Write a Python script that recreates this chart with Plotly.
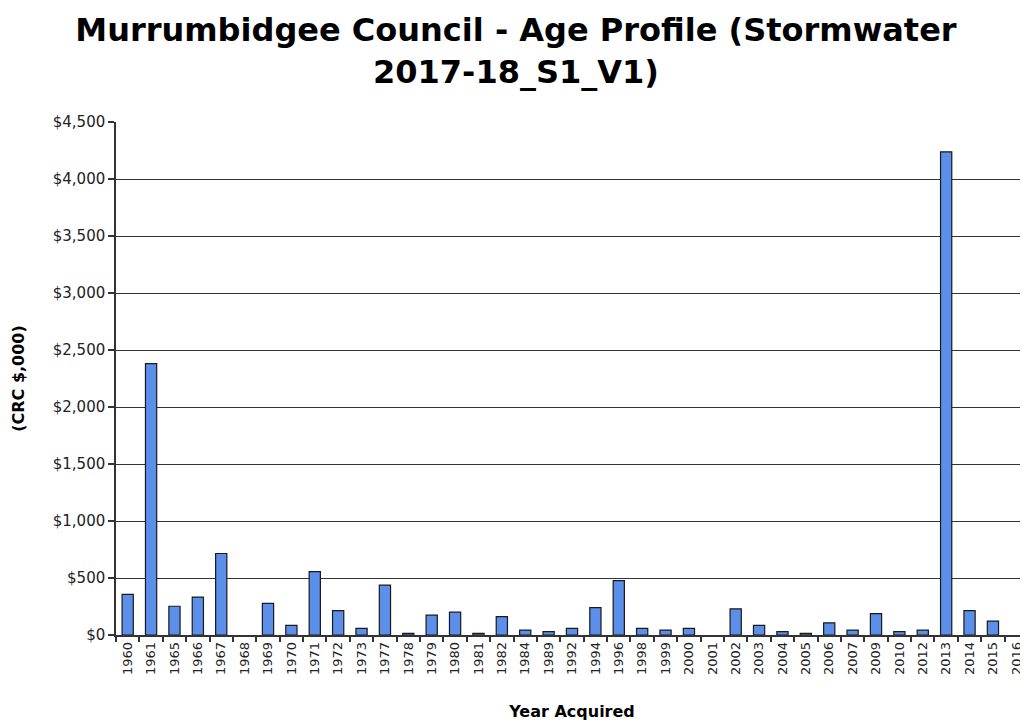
import plotly.graph_objects as go

years = ["1960", "1961", "1965", "1966", "1967", "1968", "1969", "1970", "1971", "1972",
         "1973", "1977", "1978", "1979", "1980", "1981", "1982", "1984", "1989", "1992",
         "1994", "1996", "1998", "1999", "2000", "2001", "2002", "2003", "2004", "2005",
         "2006", "2007", "2009", "2010", "2012", "2013", "2014", "2015", "2016"]
crc_values = [356, 2380, 252, 333, 715, 0, 278, 84, 556, 214,
              58, 437, 15, 174, 200, 15, 162, 43, 29, 58,
              240, 477, 58, 43, 58, 0, 229, 84, 29, 15,
              107, 43, 188, 29, 43, 4238, 214, 122, 0]
y_tick_vals = [0, 500, 1000, 1500, 2000, 2500, 3000, 3500, 4000, 4500]
y_tick_text = ["$0", "$500", "$1,000", "$1,500", "$2,000", "$2,500", "$3,000",
               "$3,500", "$4,000", "$4,500"]

line_widths = [1.2 if v > 0 else 0 for v in crc_values]

fig = go.Figure(go.Bar(
    x=years, y=crc_values,
    marker=dict(color="#5B8FEA", line=dict(color="#1a1a1a", width=line_widths)),
    width=0.48,
))

fig.update_layout(
    width=1020, height=716,
    paper_bgcolor="white", plot_bgcolor="white",
    margin=dict(l=108, r=0, t=114, b=89),
    title=dict(
        text="Murrumbidgee Council - Age Profile (Stormwater<br>2017-18_S1_V1)",
        x=0.498, xanchor="center", xref="container",
        y=0.954, yanchor="middle",
        font=dict(family="DejaVu Sans", size=32, color="black", weight="bold"),
    ),
    showlegend=False,
    bargap=0.5,
)

fig.update_xaxes(
    type="category", tickangle=-90,
    tickfont=dict(family="DejaVu Sans", size=13, color="#222"),
    showline=True, linecolor="#333", linewidth=1.5,
    ticks="outside", ticklen=5, tickcolor="#333", tickwidth=1.5,
    tickson="boundaries",
    showgrid=False,
    title=dict(text="<b>Year Acquired</b>", standoff=32,
               font=dict(family="DejaVu Sans", size=16, color="black")),
)

fig.update_yaxes(
    range=[0, 4500], tickvals=y_tick_vals, ticktext=y_tick_text,
    tickfont=dict(family="DejaVu Sans", size=15, color="#222"),
    showline=True, linecolor="#333", linewidth=1.5,
    ticks="outside", ticklen=6, tickcolor="#333", tickwidth=1.5,
    showgrid=True, gridcolor="#333", gridwidth=1.3,
    zeroline=False,
    title=dict(text="<b>(CRC $,000)</b>", standoff=24,
               font=dict(family="DejaVu Sans", size=16, color="black")),
)

fig.write_html("out.html")
